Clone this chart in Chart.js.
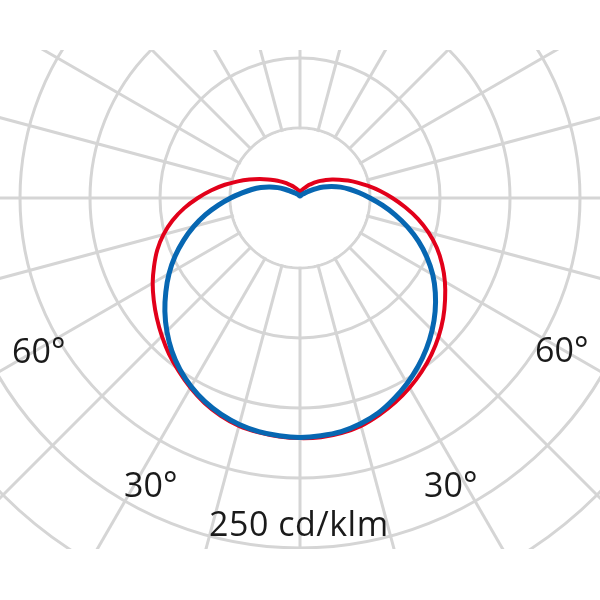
<!DOCTYPE html>
<html>
<head>
<meta charset="utf-8">
<script src="https://cdn.jsdelivr.net/npm/chart.js"></script>
<style>
  html, body { margin: 0; padding: 0; background: #fff; }
  #page { position: relative; width: 600px; height: 600px; overflow: hidden; }
  #clip { position: absolute; left: 0; top: 50px; width: 600px; height: 499px; overflow: hidden; }
  #polar { position: absolute; left: -190px; top: -342px; }
  .lbl {
    position: absolute;
    font-family: "Open Sans", sans-serif;
    font-size: 34px;
    line-height: 34px;
    color: #1a1a1a;
    white-space: nowrap;
  }
</style>
</head>
<body>
<div id="page">
  <div id="clip">
    <canvas id="polar" width="980" height="980"></canvas>
  </div>
  <div class="lbl" style="left: 12px; top: 333px">60°</div>
  <div class="lbl" style="left: 535px; top: 332px">60°</div>
  <div class="lbl" style="left: 124px; top: 467px">30°</div>
  <div class="lbl" style="left: 424px; top: 467px">30°</div>
  <div class="lbl" style="left: 209px; top: 506px; letter-spacing: 0.5px">250 cd/klm</div>
</div>

<script>
  // angles every 5°, clockwise from straight down (0°) – left half first
  const angles = [];
  for (let a = 0; a < 360; a += 5) angles.push(a);

  // luminous intensity in cd/klm, same order as angles
  const planeC90C270 = [
    171, 170.5, 169.5, 167.5, 164.5, 160.5, 155.5, 149.5, 142.5, 134.5,
    126, 117, 108, 98.5, 88.5, 78.5, 68.5, 58.5, 49.5, 41.5,
    35, 29, 23, 17.5, 12.5, 9, 6.5, 5, 4, 3.5,
    3, 2.5, 2, 2, 2, 1.5, 1.5,
    1.5, 2, 2, 2, 2.5, 3, 3.5, 4, 5, 7,
    9.5, 13.5, 18.5, 24, 30, 36, 42.5, 50, 59, 69,
    79.5, 90, 100, 109.5, 118, 126, 133.5, 140.5, 147, 153,
    158.5, 163.5, 167, 169.5, 170.5
  ];

  const planeC0C180 = [
    171.5, 171, 170, 168.5, 165.5, 161.5, 156.5, 151, 145.5, 139.5,
    133.5, 127.5, 121.5, 115, 108.5, 101, 92.5, 83, 73, 63.5,
    54.5, 46, 38.5, 32, 26.5, 22, 18.5, 15.5, 13, 11,
    9.5, 8, 7, 6, 5.5, 5, 4.5,
    5, 5.5, 6, 7, 8, 9.5, 11.5, 13.5, 16, 19,
    22.5, 26.5, 31, 36.5, 42.5, 49.5, 57.5, 66, 75.5, 85.5,
    95, 104, 112, 119.5, 126.5, 133.5, 140, 146, 151.5, 156.5,
    161, 165, 168.5, 170.5, 171.5
  ];

  const ringStep = 50;
  const ringMax = 350;
  const spokeEvery = 15;

  const gridColor = "#d5d5d5";

  // no grid inside the first ring
  const innerBlank = {
    id: "innerBlank",
    beforeDatasetsDraw(chart) {
      const r = chart.scales.r;
      const ctx = chart.ctx;
      ctx.save();
      ctx.fillStyle = "#fff";
      ctx.beginPath();
      ctx.arc(r.xCenter, r.yCenter, r.getDistanceFromCenterForValue(ringStep) - 1.5, 0, Math.PI * 2);
      ctx.fill();
      ctx.restore();
    },
  };

  new Chart(document.getElementById("polar"), {
    type: "radar",
    data: {
      labels: angles.map((a) => a + "°"),
      datasets: [
        {
          label: "C90 - C270",
          data: planeC90C270,
          borderColor: "#0767b2",
          borderWidth: 5,
          fill: false,
          pointRadius: 0,
          tension: 0.3,
        },
        {
          label: "C0 - C180",
          data: planeC0C180,
          borderColor: "#e2001a",
          borderWidth: 4,
          fill: false,
          pointRadius: 0,
          tension: 0.3,
        },
      ],
    },
    options: {
      responsive: false,
      animation: false,
      layout: { padding: 0 },
      plugins: {
        legend: { display: false },
        tooltip: { enabled: false },
      },
      scales: {
        r: {
          startAngle: 180,
          min: 0,
          max: ringMax,
          ticks: { display: false, stepSize: ringStep },
          pointLabels: { display: false },
          grid: { circular: true, color: gridColor, lineWidth: 3 },
          angleLines: {
            color: gridColor,
            lineWidth: (ctx) => (angles[ctx.index] % spokeEvery === 0 ? 3 : 0),
          },
        },
      },
    },
    plugins: [innerBlank],
  });
</script>
</body>
</html>
